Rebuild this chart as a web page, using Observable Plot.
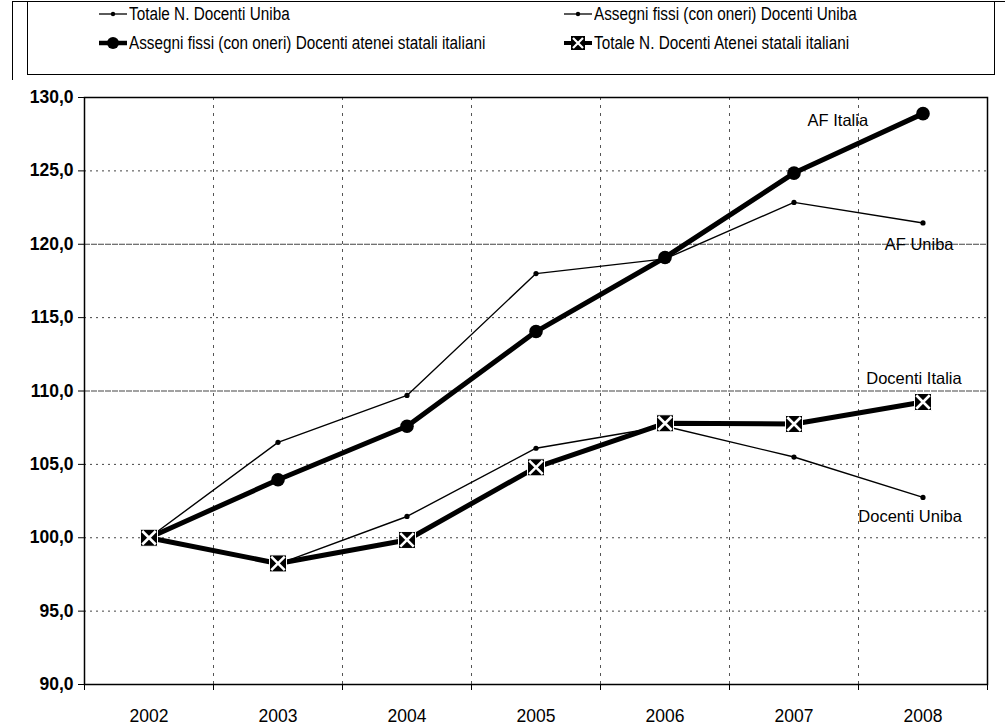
<!DOCTYPE html>
<html><head><meta charset="utf-8">
<script src="https://cdn.jsdelivr.net/npm/d3@7"></script>
<script src="https://cdn.jsdelivr.net/npm/@observablehq/plot@0.6"></script>
<style>
body{margin:0;background:#fff;font-family:"Liberation Sans",Arial,sans-serif;color:#000;}
#wrap{position:relative;width:1005px;height:726px;overflow:hidden;background:#fff;}
#outer{position:absolute;left:12px;top:1px;width:1200px;height:1000px;border-left:1.5px solid #000;border-top:1.5px solid #000;}
#legend{position:relative;height:80px;}
#lbox{position:absolute;left:27px;top:1px;width:966px;height:72px;border:1.5px solid #000;background:#fff;}
.item{position:absolute;display:flex;align-items:center;font-size:18px;white-space:nowrap;}
.item span{display:inline-block;transform:scaleX(0.85);transform-origin:0 50%;}
.item svg{margin-right:1px;}
#chart{position:relative;}
</style></head><body>
<div id="wrap">
  <div id="outer"></div>
  <div id="legend"><div id="lbox"></div></div>
  <div id="chart"></div>
</div>
<script>
// ---- data ----
const years = [2002, 2003, 2004, 2005, 2006, 2007, 2008];
const docentiUniba  = [100, 98.2, 101.45, 106.1, 107.6, 105.5, 102.75];
const afUniba       = [100, 106.5, 109.7, 118.0, 119.0, 122.85, 121.45];
const afItalia      = [100, 103.95, 107.6, 114.05, 119.1, 124.85, 128.9];
const docentiItalia = [100, 98.25, 99.85, 104.8, 107.8, 107.75, 109.25];
const seriesNames = [
  "Totale N. Docenti Uniba",
  "Assegni fissi (con oneri) Docenti Uniba",
  "Assegni fissi (con oneri) Docenti atenei statali italiani",
  "Totale N. Docenti Atenei statali italiani"
];
const yTicks = [90, 95, 100, 105, 110, 115, 120, 125, 130];
const annLabels = ["AF Italia", "AF Uniba", "Docenti Italia", "Docenti Uniba"];
const annX = [2007.34, 2007.97, 2007.93, 2007.9];
const annY = [128.4, 120.0, 110.85, 101.4];

// ---- legend ----
const legendSymbols = ["thin", "thin", "circle", "square"];
const legendPos = [[70, 0], [535, 0], [70, 29], [535, 29]];
const lbox = document.getElementById("lbox");
seriesNames.forEach((name, i) => {
  const d = document.createElement("div");
  d.className = "item";
  d.style.left = legendPos[i][0] + "px";
  d.style.top = legendPos[i][1] + "px";
  d.style.height = "24px";
  const s = legendSymbols[i];
  let svg = '<svg width="30" height="20" viewBox="0 0 30 20">';
  if (s === "thin") {
    svg += '<line x1="1" x2="29" y1="10" y2="10" stroke="#000" stroke-width="1.3"/><circle cx="15" cy="10" r="2.2" fill="#000"/>';
  } else if (s === "circle") {
    svg += '<line x1="1" x2="29" y1="10" y2="10" stroke="#000" stroke-width="4.5"/><circle cx="15" cy="10" r="6" fill="#000"/>';
  } else {
    svg += '<line x1="1" x2="29" y1="10" y2="10" stroke="#000" stroke-width="4"/><rect x="8" y="3" width="14" height="14" fill="#000"/><path d="M10 5L20 15M20 5L10 15" stroke="#fff" stroke-width="2.2"/>';
  }
  svg += '</svg>';
  d.innerHTML = svg + '<span>' + name + '</span>';
  lbox.appendChild(d);
});

// ---- chart ----
const mk = (vals, key) => years.map((yr, i) => ({year: yr, value: vals[i], series: key}));
const du = mk(docentiUniba, "du"), au = mk(afUniba, "au"), ai = mk(afItalia, "ai"), di = mk(docentiItalia, "di");
const bounds = years.slice(0, -1).map(y => y + 0.5);
const edgeTicks = [years[0] - 0.5, ...bounds, years[years.length - 1] + 0.5];
const ann = annLabels.map((t, i) => ({t, x: annX[i], y: annY[i]}));
const solidGrid = [110, 120];

const chart = Plot.plot({
  width: 1005, height: 646,
  marginLeft: 84, marginRight: 18, marginTop: 17, marginBottom: 42,
  style: {fontFamily: "'Liberation Sans', Arial, sans-serif", background: "#fff", color: "#000", overflow: "visible"},
  x: {type: "linear", domain: [2001.5, 2008.5]},
  y: {domain: [90, 130]},
  marks: [
    Plot.ruleY(yTicks.filter(v => v > 90 && v < 130 && !solidGrid.includes(v)), {stroke: "#444", strokeWidth: 1, strokeDasharray: "2,4"}),
    Plot.ruleY(solidGrid, {stroke: "#444", strokeWidth: 1.2, strokeDasharray: "6,1"}),
    Plot.ruleX(bounds, {stroke: "#555", strokeWidth: 1, strokeDasharray: "3,5"}),
    Plot.frame({stroke: "#000", strokeWidth: 1.5}),
    Plot.axisY({ticks: yTicks, tickFormat: d => d.toFixed(1).replace(".", ","), tickSize: 6, tickPadding: 5, fontSize: 17.5, fontWeight: "bold", label: null}),
    Plot.axisX({ticks: edgeTicks, tickFormat: () => "", tickSize: 6, label: null}),
    Plot.axisX({ticks: years, tickFormat: d => String(d), tickSize: 0, tickPadding: 25, fontSize: 17.5, label: null}),
    Plot.line(du, {x: "year", y: "value", stroke: "#000", strokeWidth: 1.4}),
    Plot.line(au, {x: "year", y: "value", stroke: "#000", strokeWidth: 1.4}),
    Plot.dot([...du, ...au], {x: "year", y: "value", r: 2.6, fill: "#000"}),
    Plot.line(ai, {x: "year", y: "value", stroke: "#000", strokeWidth: 5}),
    Plot.line(di, {x: "year", y: "value", stroke: "#000", strokeWidth: 5}),
    Plot.dot(ai, {x: "year", y: "value", r: 6.8, fill: "#000"}),
    Plot.dot(di, {x: "year", y: "value", symbol: "square", r: 9.6, fill: "#000", stroke: "#fff", strokeWidth: 1}),
    Plot.dot(di, {x: "year", y: "value", symbol: "times", r: 6.2, stroke: "#fff", strokeWidth: 2.6}),
    Plot.text(ann, {x: "x", y: "y", text: "t", fontSize: 16.5, fill: "#000"})
  ]
});
document.getElementById("chart").appendChild(chart);
</script>
</body></html>
